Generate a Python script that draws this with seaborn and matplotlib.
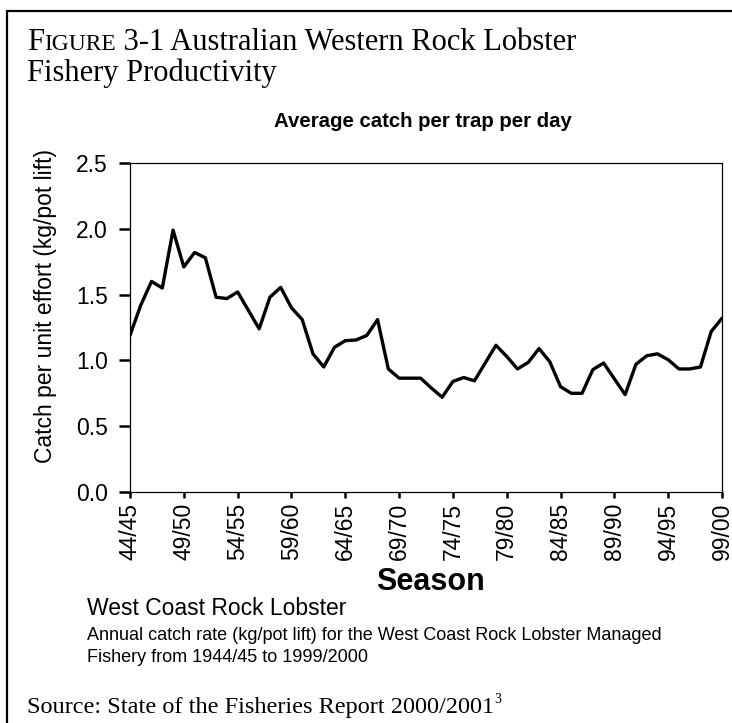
import numpy as np
import pandas as pd
import seaborn as sns
import matplotlib
import matplotlib.pyplot as plt
from matplotlib.patches import Rectangle

matplotlib.use('Agg')

# season start years (44/45 ... 99/00) and catch per pot lift
season_start = list(range(1944, 2000))
cpue = [1.19, 1.42, 1.60, 1.55, 1.99, 1.71, 1.82, 1.78, 1.48, 1.47,
        1.52, 1.38, 1.24, 1.48, 1.555, 1.40, 1.31, 1.05, 0.95, 1.10,
        1.15, 1.155, 1.19, 1.31, 0.935, 0.865, 0.865, 0.865, 0.79, 0.72,
        0.84, 0.87, 0.845, 0.98, 1.115, 1.03, 0.935, 0.985, 1.09, 0.99,
        0.80, 0.75, 0.75, 0.93, 0.98, 0.86, 0.74, 0.97, 1.035, 1.05,
        1.005, 0.935, 0.935, 0.95, 1.22, 1.32]

tick_years = [1944, 1949, 1954, 1959, 1964, 1969, 1974, 1979, 1984, 1989, 1994, 1999]
tick_labels = ["44/45", "49/50", "54/55", "59/60", "64/65", "69/70",
               "74/75", "79/80", "84/85", "89/90", "94/95", "99/00"]
y_ticks = [0.0, 0.5, 1.0, 1.5, 2.0, 2.5]

df = pd.DataFrame({"season": season_start, "cpue": cpue})

sns.set_style("ticks")
plt.rcParams['font.family'] = ['Liberation Sans', 'DejaVu Sans']
plt.rcParams.update({'text.color': 'black', 'axes.edgecolor': 'black',
                     'xtick.color': 'black', 'ytick.color': 'black',
                     'axes.labelcolor': 'black'})

W, H = 732, 723
fig = plt.figure(figsize=(W / 100, H / 100), dpi=100)
fx = lambda x: x / W
fy = lambda y: 1 - y / H

# outer frame of the page figure (right and bottom edges fall outside the crop)
fig.patches.append(Rectangle((fx(7), fy(740)), fx(760), 740 / H - 11 / H,
                             transform=fig.transFigure, fill=False,
                             edgecolor='black', linewidth=1.6))

ax = fig.add_axes([fx(130), fy(492), fx(722) - fx(130), fy(163) - fy(492)])
sns.lineplot(data=df, x="season", y="cpue", ax=ax, color='black', linewidth=2.4)

ax.set_xlim(1944, 1999)
ax.set_ylim(0, 2.5)
ax.set_xticks(tick_years)
ax.set_xticklabels(tick_labels, rotation=90)
ax.set_yticks(y_ticks)
ax.set_yticklabels([f"{v:.1f}" for v in y_ticks])
ax.set_xlabel("")
ax.set_ylabel("")
for s in ax.spines.values():
    s.set_visible(True)
    s.set_linewidth(0.9)
    s.set_color('black')
ax.tick_params(axis='x', length=4.5, width=1.8, pad=3.5, labelsize=16.5)
ax.tick_params(axis='y', length=8, width=1.8, pad=8, labelsize=16.5)

fig.text(fx(46), fy(306), "Catch per unit effort (kg/pot lift)", rotation=90,
         ha='center', va='center', fontsize=16.5)
fig.text(fx(423), fy(127), "Average catch per trap per day", ha='center',
         va='baseline', fontsize=14.7, fontweight='bold')
fig.text(fx(430), fy(590), "Season", ha='center', va='baseline',
         fontsize=22, fontweight='bold')

fig.text(fx(87), fy(615), "West Coast Rock Lobster", va='baseline', fontsize=16.5)
fig.text(fx(87), fy(640), "Annual catch rate (kg/pot lift) for the West Coast Rock Lobster Managed",
         va='baseline', fontsize=13)
fig.text(fx(87), fy(662), "Fishery from 1944/45 to 1999/2000", va='baseline', fontsize=13)

# serif title with small caps, pieces laid out one after another
renderer = fig.canvas.get_renderer()
serif = ['Liberation Serif', 'DejaVu Serif']


def run_text(x, y, parts):
    for txt, size in parts:
        t = fig.text(fx(x), fy(y), txt, va='baseline', fontsize=size, family=serif)
        x = t.get_window_extent(renderer).x1


run_text(27, 49.5, [("F", 22), ("IGURE", 16.8), (" 3-1 Australian Western Rock Lobster", 22)])
run_text(27, 81.5, [("Fishery Productivity", 22)])

src = fig.text(fx(27), fy(713), "Source: State of the Fisheries Report 2000/2001",
               va='baseline', fontsize=17.5, family=serif)
x_end = src.get_window_extent(renderer).x1
fig.text(x_end / W, fy(703), "3", va='baseline', fontsize=10, family=serif)

plt.savefig("out.png", dpi=100)
